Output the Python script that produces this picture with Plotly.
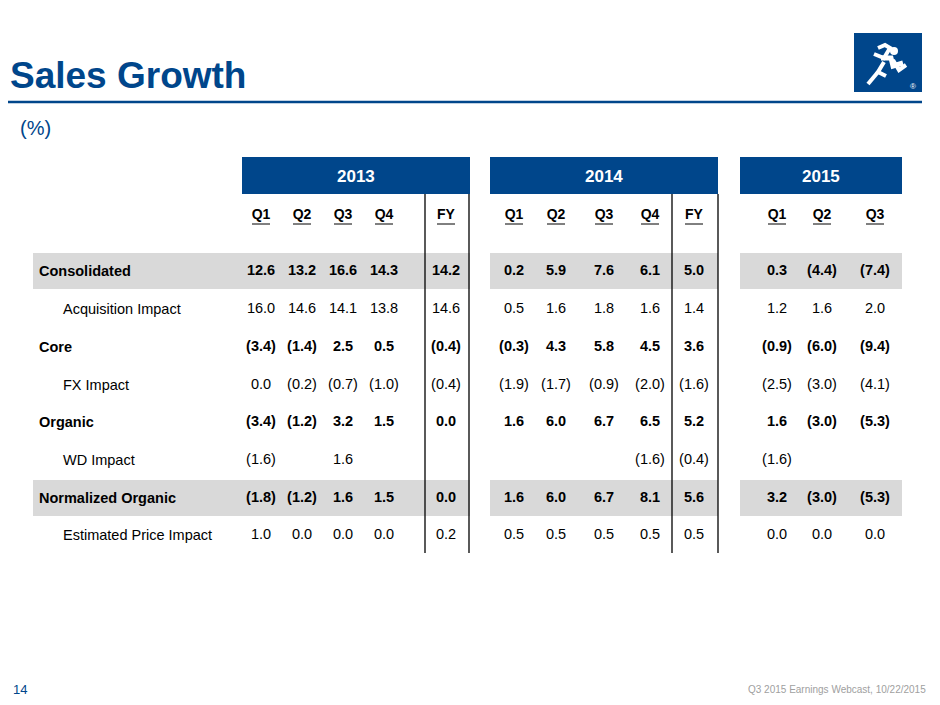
import plotly.graph_objects as go

years = ["2013", "2014", "2015"]
col_labels = ["Q1", "Q2", "Q3", "Q4", "FY", "Q1", "Q2", "Q3", "Q4", "FY", "Q1", "Q2", "Q3"]
row_labels = ["Consolidated", "Acquisition Impact", "Core", "FX Impact", "Organic",
              "WD Impact", "Normalized Organic", "Estimated Price Impact"]
row_bold = [True, False, True, False, True, False, True, False]
values = [
    ["12.6", "13.2", "16.6", "14.3", "14.2", "0.2", "5.9", "7.6", "6.1", "5.0", "0.3", "(4.4)", "(7.4)"],
    ["16.0", "14.6", "14.1", "13.8", "14.6", "0.5", "1.6", "1.8", "1.6", "1.4", "1.2", "1.6", "2.0"],
    ["(3.4)", "(1.4)", "2.5", "0.5", "(0.4)", "(0.3)", "4.3", "5.8", "4.5", "3.6", "(0.9)", "(6.0)", "(9.4)"],
    ["0.0", "(0.2)", "(0.7)", "(1.0)", "(0.4)", "(1.9)", "(1.7)", "(0.9)", "(2.0)", "(1.6)", "(2.5)", "(3.0)", "(4.1)"],
    ["(3.4)", "(1.2)", "3.2", "1.5", "0.0", "1.6", "6.0", "6.7", "6.5", "5.2", "1.6", "(3.0)", "(5.3)"],
    ["(1.6)", "", "1.6", "", "", "", "", "", "(1.6)", "(0.4)", "(1.6)", "", ""],
    ["(1.8)", "(1.2)", "1.6", "1.5", "0.0", "1.6", "6.0", "6.7", "8.1", "5.6", "3.2", "(3.0)", "(5.3)"],
    ["1.0", "0.0", "0.0", "0.0", "0.2", "0.5", "0.5", "0.5", "0.5", "0.5", "0.0", "0.0", "0.0"],
]

BLUE = "#00468b"
FONT = "Liberation Sans, Arial, sans-serif"

col_x = [261, 302, 343, 384, 446, 514, 556, 604, 650, 694, 777, 822, 875]
row_y = [271, 309, 347, 385, 422, 460, 498, 535]
head_y = 215
year_spans = [(242, 470), (490, 718), (740, 902)]
band_spans = [(33, 470), (490, 718), (740, 902)]
vlines = [425, 469, 672, 718]

fig = go.Figure()
shapes = []

for r in (0, 6):
    for x0, x1 in band_spans:
        shapes.append(dict(type="rect", x0=x0, x1=x1, y0=row_y[r] - 18, y1=row_y[r] + 18,
                           fillcolor="#d9d9d9", line_width=0, layer="below"))
for (x0, x1), yr in zip(year_spans, years):
    shapes.append(dict(type="rect", x0=x0, x1=x1, y0=157, y1=194, fillcolor=BLUE, line_width=0))
    fig.add_annotation(x=(x0 + x1) / 2, y=176, text="<b>%s</b>" % yr, showarrow=False,
                       font=dict(family=FONT, size=17, color="white"))
for vx in vlines:
    shapes.append(dict(type="line", x0=vx, x1=vx, y0=194, y1=553, line=dict(color="black", width=1.3)))

fig.add_trace(go.Scatter(x=col_x, y=[head_y] * len(col_x), mode="text",
                         text=["<b>%s</b>" % c for c in col_labels],
                         textfont=dict(family=FONT, size=14, color="black"), hoverinfo="skip"))
for cx in col_x:
    shapes.append(dict(type="line", x0=cx - 9, x1=cx + 9, y0=head_y + 9, y1=head_y + 9,
                       line=dict(color="black", width=1)))

for r, (lab, bold, vals) in enumerate(zip(row_labels, row_bold, values)):
    fig.add_annotation(x=37 if bold else 61, y=row_y[r], xanchor="left", showarrow=False,
                       text="<b>%s</b>" % lab if bold else lab,
                       font=dict(family=FONT, size=14.5, color="black"))
    fig.add_trace(go.Scatter(x=col_x, y=[row_y[r]] * len(col_x), mode="text",
                             text=[("<b>%s</b>" % v if bold else v) for v in vals],
                             textfont=dict(family=FONT, size=14.5, color="black"), hoverinfo="skip"))

# title and rule
fig.add_annotation(xref="paper", x=0, y=75, xanchor="left", text="<b>Sales Growth</b>", showarrow=False,
                   font=dict(family=FONT, size=37, color=BLUE))
shapes.append(dict(type="line", x0=8, x1=922, y0=102, y1=102, line=dict(color=BLUE, width=2.5)))

# logo: blue square with a white running figure
shapes.append(dict(type="rect", x0=854, x1=922, y0=33, y1=92, fillcolor=BLUE, line_width=0))
W = dict(color="white", width=4)
shapes += [
    dict(type="circle", x0=890, x1=898, y0=47, y1=55, fillcolor="white", line_width=0),
    dict(type="path", path="M 878 48 L 885 45 L 890 48 L 884 58 L 874 54", line=W),
    dict(type="path", path="M 881 58 L 891 58 L 893 66 L 903 63", line=dict(color="white", width=5)),
    dict(type="path", path="M 893 60 L 899 70 L 906 65", line=W),
    dict(type="path", path="M 884 62 L 878 72 L 886 76", line=W),
    dict(type="path", path="M 878 72 L 868 84", line=W),
]
fig.add_annotation(x=918, y=86, xanchor="right", text="®", showarrow=False,
                   font=dict(family=FONT, size=8, color="white"))

fig.add_annotation(x=18, y=128, xanchor="left", text="(%)", showarrow=False,
                   font=dict(family=FONT, size=20, color=BLUE))
fig.add_annotation(x=11, y=689, xanchor="left", text="14", showarrow=False,
                   font=dict(family=FONT, size=13, color=BLUE))
fig.add_annotation(x=928, y=689, xanchor="right", text="Q3 2015 Earnings Webcast, 10/22/2015",
                   showarrow=False, font=dict(family=FONT, size=10, color="#a0a0a0"))

# page has an 8px body margin, so the figure covers pixels 8..932 / 8..697
fig.update_layout(
    width=924, height=689, margin=dict(l=0, r=0, t=0, b=0),
    paper_bgcolor="white", plot_bgcolor="white", showlegend=False, shapes=shapes,
    xaxis=dict(range=[8, 932], visible=False, fixedrange=True),
    yaxis=dict(range=[697, 8], visible=False, fixedrange=True),
)
fig.write_html("out.html")
